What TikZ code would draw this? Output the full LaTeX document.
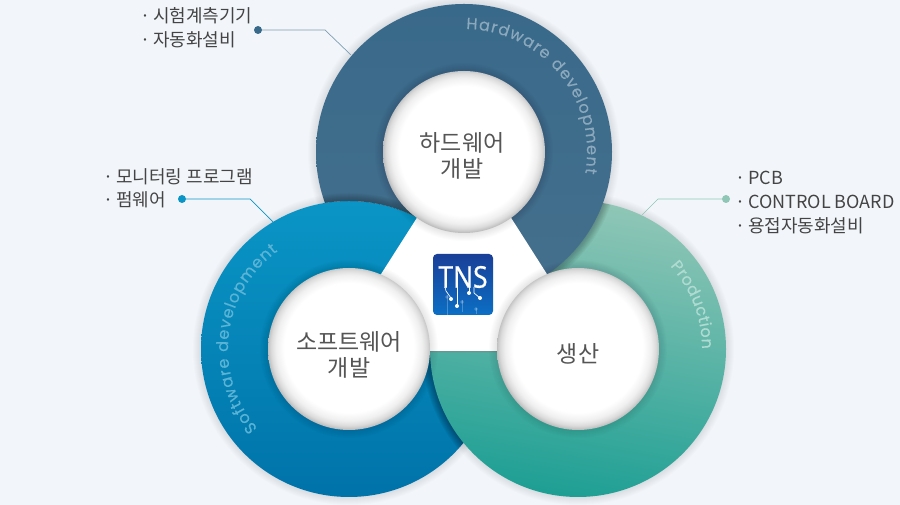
\documentclass[tikz,border=0pt]{standalone}
\usepackage{fontspec}
\usepackage{graphicx}
\setmainfont{Noto Sans CJK KR}
\newfontfamily\ringfont[FakeBold=0.3]{Poppins}
\newfontfamily\logofont[FakeBold=0.5]{Noto Sans}
\usetikzlibrary{shadows,fadings,decorations.text}
\definecolor{pagebg}{HTML}{F2F6FA}
\definecolor{hwdark}{HTML}{39698A}
\definecolor{hwlow}{HTML}{45708D}
\definecolor{swtop}{HTML}{0A95C6}
\definecolor{swlow}{HTML}{0073A9}
\definecolor{prtop}{HTML}{8FC6B6}
\definecolor{prmid}{HTML}{50A89E}
\definecolor{prlow}{HTML}{1E9F94}
\definecolor{labelgray}{HTML}{555555}
\definecolor{listgray}{HTML}{444444}
\definecolor{hwtext}{HTML}{8BA8BC}
\definecolor{swtext}{HTML}{5BB4D6}
\definecolor{prtext}{HTML}{B0DBD2}
\definecolor{logotop}{HTML}{1A3F98}
\definecolor{logolow}{HTML}{0B6FC4}
\pgfdeclareradialshading{innerdisc}{\pgfpoint{0bp}{.7bp}}{color(0bp)=(white); color(20bp)=(white); color(22.5bp)=(white!94!black); color(24bp)=(white!86!black); color(25bp)=(white!76!black); color(25.7bp)=(white!66!black); color(50bp)=(white!66!black)}
\newcommand{\softrim}[4]{\foreach \k in {1,...,8} \fill[black, opacity=#4] (#1,#2) circle ({#3+\k});}
\newcommand{\listdot}{\makebox[12pt][l]{\kern-.5pt·}}
\tikzset{
  ringbase/.style={circle, inner sep=0pt, minimum size=296pt},
  ringhw/.style={ringbase, top color=hwdark, bottom color=hwlow},
  ringsw/.style={ringbase, top color=swtop, bottom color=swlow},
  ringpr/.style={ringbase, top color=prtop, middle color=prmid, bottom color=prlow, shading angle=-10},
  discnode/.style={circle, inner sep=0pt, minimum size=162pt, shading=innerdisc},
  disctext/.style={inner sep=0pt, align=center, text=labelgray, font=\fontsize{23}{26}\selectfont},
  listnode/.style={anchor=west, inner sep=0pt, text=listgray, font=\fontsize{18}{18}\selectfont},
  dotnode/.style={circle, inner sep=0pt, minimum size=8pt},
}
\begin{document}
\begin{tikzpicture}[x=1pt, y=1pt]
\useasboundingbox (0,0) rectangle (900,505);
\fill[pagebg] (0,0) rectangle (900,505);

\softrim{349}{156}{148}{.012}
\node[ringsw] (R2) at (349,156) {};
\softrim{578}{156}{148}{.012}
\begin{scope}
\clip (349,156) circle (148);
\softrim{578}{156}{148}{.03}
\end{scope}
\node[ringpr] (R3) at (578,156) {};

\begin{scope}
\clip (0,0) rectangle (900,505) (349,156) circle (148);
\softrim{464}{353}{148}{.012}
\begin{scope}
\clip (578,156) circle (148);
\softrim{464}{353}{148}{.02}
\end{scope}
\node[ringhw] (R1) at (464,353) {};
\begin{scope}
\clip (464,353) circle (148);
\softrim{349}{156}{148}{.035}
\end{scope}
\end{scope}

\fill[white, drop shadow={shadow xshift=0pt, shadow yshift=-1.5pt, opacity=.5}] (464,361) -- (596,154) -- (332,154) -- cycle;

\path[decorate, decoration={text along path, text align={fit to path},
  text={|\ringfont\fontsize{16}{16}\selectfont\color{hwtext}|Hardware development}}]
  (464,353) ++(89:123) arc[start angle=89, end angle=-10, radius=123];
\path[decorate, decoration={text along path, text align={fit to path},
  text={|\ringfont\fontsize{16}{16}\selectfont\color{swtext}|Software development}}]
  (349,156) ++(221:121) arc[start angle=221, end angle=126, radius=121];
\path[decorate, decoration={text along path, text align={fit to path},
  text={|\ringfont\fontsize{16}{16}\selectfont\color{prtext}|Production}}]
  (578,156) ++(42:124) arc[start angle=42, end angle=0, radius=124];

\softrim{464}{353}{81}{.012}
\node[discnode] (D1) at (464,353) {};
\softrim{349}{156}{81}{.012}
\node[discnode] (D2) at (349,156) {};
\softrim{578}{156}{81}{.012}
\node[discnode] (D3) at (578,156) {};
\node[disctext] (T1) at (462,349) {하드웨어\\개발};
\node[disctext] (T2) at (349,150.5) {소프트웨어\\개발};
\node[disctext] (T3) at (578,151) {생산};

\node[rounded corners=4pt, minimum width=60pt, minimum height=61pt, inner sep=0pt, top color=logotop, bottom color=logolow] (LOGO) at (463,220.5) {};
\node[inner sep=0pt, text=white, font=\logofont\fontsize{30}{30}\selectfont] (TNS) at (463,228) {\scalebox{.88}[1]{TNS}};
\foreach \px/\py/\qx/\qy in {447/210/447/190, 462/205/462/193, 476/197/476/191}
  \draw[white, opacity=.25, line width=.5pt] (\px,\py) -- (\qx,\qy);
\fill[white, opacity=.25] (447,208) circle (1.8) (462,203) circle (1.8) (476,196) circle (1.8);
\draw[white, line width=.7pt] (445,218) -- (446,214) -- (451,207);
\draw[white, line width=.7pt] (457,218) -- (457,199);
\draw[white, line width=.7pt] (469,218) -- (469,212);
\draw[white, line width=.7pt] (474,218) -- (474,212) -- (480,207);
\fill[white] (451,206) circle (2) (457,199) circle (2) (469,212) circle (2) (480,207) circle (2);

\node[listnode] (L1a) at (141,489) {\listdot 시험계측기기};
\node[listnode] (L1b) at (141,465) {\listdot 자동화설비};
\node[listnode] (L2a) at (104,328) {\listdot 모니터링 프로그램};
\node[listnode] (L2b) at (104,305) {\listdot 펌웨어};
\node[listnode] (L3a) at (736,327) {\listdot PCB};
\node[listnode] (L3b) at (736,303) {\listdot CONTROL BOARD};
\node[listnode] (L3c) at (736,279) {\listdot 용접자동화설비};

\node[dotnode, fill=hwdark] (P1) at (258,475) {};
\node[dotnode, fill=swtop] (P2) at (182,306) {};
\node[dotnode, fill=prtop] (P3) at (726,306) {};
\coordinate (B1) at (325,475);
\coordinate (E1) at (351,450);
\coordinate (B2) at (250,306);
\coordinate (E2) at (273,283);
\coordinate (B3) at (658,306);
\coordinate (E3) at (642,290);
\draw[hwdark!65!white, line width=.7pt] (P1) -- (B1) -- (E1);
\draw[swtop, line width=.7pt] (P2) -- (B2) -- (E2);
\draw[prtop, line width=.7pt] (P3) -- (B3) -- (E3);
\end{tikzpicture}
\end{document}
